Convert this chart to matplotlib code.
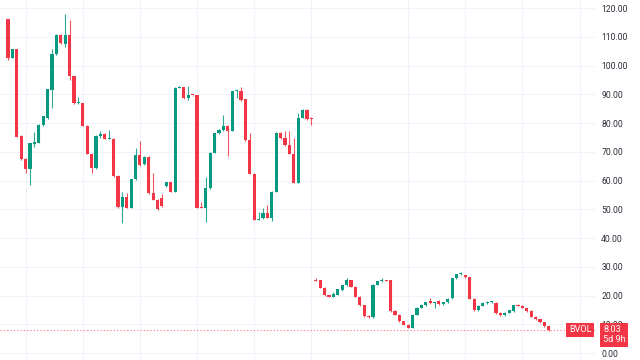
import numpy as np
import matplotlib.pyplot as plt

plt.rcParams['font.family'] = ['Roboto', 'DejaVu Sans']

# daily BVOL candles
opens = [116.1, 102.7, 105.6, 75.5, 67.6, 64.0, 72.7, 73.2, 79.3, 81.9,
         91.5, 103.9, 110.6, 107.5, 110.6, 96.3, 86.8, 86.8, 79.0, 69.4,
         64.2, 75.5, 76.2, 74.6, 74.6, 61.6, 50.7, 54.4, 50.6, 60.4,
         69.0, 65.6, 68.3, 55.5, 53.4, 54.0, 58.1, 59.4, 56.1, 92.3,
         92.4, 88.6, 89.7, 89.7, 50.8, 50.6, 57.3, 69.7, 76.4, 77.6,
         79.0, 77.3, 91.0, 91.2, 88.2, 74.1, 62.3, 46.3, 46.8, 48.6,
         47.1, 56.1, 76.7, 74.7, 72.2, 69.4, 59.2, 81.9, 84.7, 81.6,
         25.3, 25.3, 22.7, 20.1, 19.6, 20.3, 21.9, 23.5, 25.3, 23.0,
         19.6, 16.6, 12.9, 12.4, 23.8, 25.0, 25.3, 25.3, 14.6, 13.3,
         11.0, 9.8, 8.8, 13.3, 15.8, 16.7, 18.0, 17.4, 18.1, 16.9,
         17.7, 19.1, 26.0, 27.4, 27.1, 26.4, 18.9, 14.8, 16.4, 17.4,
         17.6, 17.5, 13.9, 13.1, 14.0, 14.6, 16.6, 16.5, 15.5, 14.6,
         12.6, 11.8, 10.7, 9.4]
closes = [102.5, 105.6, 75.2, 67.4, 64.0, 72.9, 73.5, 79.4, 82.3, 91.7,
          103.9, 110.6, 107.7, 110.6, 96.3, 86.8, 87.1, 79.0, 69.4, 64.2,
          75.6, 76.2, 74.6, 74.8, 61.6, 50.7, 54.4, 50.6, 60.4, 68.9,
          65.4, 68.3, 55.5, 53.4, 50.0, 51.1, 59.4, 56.1, 92.3, 92.5,
          88.6, 89.7, 89.6, 50.6, 50.6, 57.3, 69.7, 76.4, 77.6, 79.0,
          77.3, 91.0, 91.5, 88.0, 74.1, 62.3, 46.3, 46.6, 48.6, 47.1,
          56.1, 76.7, 74.7, 72.2, 69.4, 59.2, 81.9, 84.7, 81.4, 81.3,
          25.1, 22.7, 20.1, 19.6, 20.5, 22.2, 23.5, 25.3, 23.0, 19.6,
          16.6, 12.8, 12.4, 23.8, 24.9, 25.3, 25.2, 14.6, 13.3, 11.0,
          9.8, 8.8, 13.3, 15.8, 16.7, 17.7, 17.4, 17.6, 16.9, 17.7,
          18.9, 26.0, 27.4, 28.0, 26.4, 18.9, 14.8, 16.4, 17.4, 17.8,
          17.8, 13.9, 13.1, 14.0, 14.8, 16.6, 16.5, 15.8, 14.6, 12.6,
          11.8, 10.7, 9.4, 8.03]
highs = [116.3, 105.8, 105.8, 75.7, 67.8, 73.1, 77.0, 79.6, 82.5, 91.9,
         105.7, 110.8, 110.8, 117.9, 115.8, 96.5, 89.2, 87.0, 79.2, 69.6,
         75.8, 77.2, 76.4, 77.6, 74.8, 61.8, 55.9, 55.5, 60.6, 71.2,
         73.9, 68.5, 68.5, 62.7, 53.6, 55.2, 59.6, 59.6, 92.5, 93.0,
         92.6, 93.0, 89.9, 89.9, 52.4, 61.1, 69.9, 76.6, 77.8, 82.8,
         79.2, 91.2, 91.8, 92.6, 88.4, 76.6, 62.5, 49.1, 50.3, 51.5,
         56.3, 76.9, 76.9, 77.2, 77.2, 74.7, 83.4, 84.9, 84.9, 82.1,
         26.1, 25.5, 22.9, 20.3, 21.2, 22.4, 23.7, 26.0, 25.5, 23.2,
         19.8, 16.8, 13.1, 24.0, 25.1, 26.1, 25.4, 25.5, 14.8, 13.5,
         11.2, 10.0, 13.5, 16.1, 16.9, 17.9, 19.0, 17.8, 18.3, 17.9,
         19.1, 26.2, 27.6, 28.2, 27.3, 26.6, 19.1, 16.6, 17.6, 18.0,
         18.0, 17.7, 14.1, 14.2, 15.0, 16.8, 16.9, 16.7, 15.7, 14.8,
         12.8, 12.0, 10.9, 9.6]
lows = [101.9, 102.5, 75.0, 67.2, 62.5, 58.4, 71.7, 73.0, 79.1, 81.4,
        85.4, 103.7, 107.5, 106.5, 95.0, 86.6, 86.6, 78.8, 69.2, 62.5,
        64.0, 74.7, 74.4, 74.4, 61.4, 50.5, 45.3, 50.4, 50.4, 60.2,
        65.2, 65.4, 55.3, 53.2, 49.8, 50.9, 57.9, 55.9, 55.9, 92.1,
        88.4, 88.0, 89.4, 50.4, 50.4, 45.7, 57.1, 69.5, 76.2, 77.4,
        68.5, 77.1, 88.6, 87.8, 73.9, 62.1, 46.1, 46.1, 46.6, 46.9,
        45.9, 55.9, 74.5, 72.0, 69.2, 59.0, 59.0, 81.7, 81.2, 79.3,
        24.9, 22.5, 19.9, 19.4, 19.4, 20.1, 21.7, 23.3, 22.8, 19.4,
        16.4, 12.6, 12.2, 12.2, 23.6, 24.8, 25.0, 14.4, 13.1, 10.8,
        9.6, 8.6, 8.6, 13.1, 15.6, 16.5, 17.2, 15.5, 16.7, 16.7,
        17.5, 18.9, 25.8, 27.2, 26.2, 18.7, 14.6, 14.6, 16.2, 17.2,
        17.4, 13.7, 12.9, 12.9, 13.8, 14.4, 16.3, 15.6, 14.4, 12.4,
        11.6, 10.5, 9.2, 7.8]

symbol = 'BVOL'
countdown = '5d 9h'
yticks = list(range(0, 130, 10))

up, down = '#089981', '#f23645'

o = np.array(opens)
c = np.array(closes)
h = np.array(highs)
l = np.array(lows)
x = np.arange(len(o))
col = np.where(c >= o, up, down)

fig = plt.figure(figsize=(6.4, 3.6), dpi=100)
ax = fig.add_axes([0, 0, 595 / 640, 1])

ax.vlines(x, l, h, colors=col, lw=0.8, alpha=0.85, zorder=3)
body = np.maximum(np.abs(c - o), 0.35)
ax.bar(x, body, bottom=np.minimum(o, c), width=0.72, color=col, lw=0, zorder=4)

last = closes[-1]
ax.axhline(last, color=down, lw=0.8, ls=(0, (1, 2)), alpha=0.7, zorder=2)

ax.set_xlim(-1.82, 133.5)
ax.set_ylim(-2.43, 122.8)
ax.set_xticks([4, 17, 30, 43, 56, 69, 91, 104, 117, 130])
ax.set_yticks(yticks)
ax.set_yticklabels([f'{v:.2f}' for v in yticks])
ax.yaxis.tick_right()
ax.tick_params(axis='x', length=0, labelbottom=False)
ax.tick_params(axis='y', length=0, pad=4.5, labelsize=6.2, labelcolor='#2a2e39')
ax.grid(True, color='#f0f3fa', lw=0.8)
ax.set_axisbelow(True)
for s in ax.spines.values():
    s.set_visible(False)

ax.annotate(symbol, xy=(1, last), xycoords=('axes fraction', 'data'),
            xytext=(-2.5, 0), textcoords='offset points', ha='right', va='center',
            fontsize=6.6, color='white', zorder=6,
            bbox=dict(boxstyle='square,pad=0.3', fc=down, ec='none'))
ax.annotate(f'{last:.2f}\n{countdown}', xy=(1, last), xycoords=('axes fraction', 'data'),
            xytext=(5.8, 3.2), textcoords='offset points', ha='left', va='top',
            fontsize=6.6, color='white', linespacing=1.1, zorder=6,
            annotation_clip=False,
            bbox=dict(boxstyle='square,pad=0.3', fc=down, ec='none'))

fig.savefig('out.png', dpi=100)
